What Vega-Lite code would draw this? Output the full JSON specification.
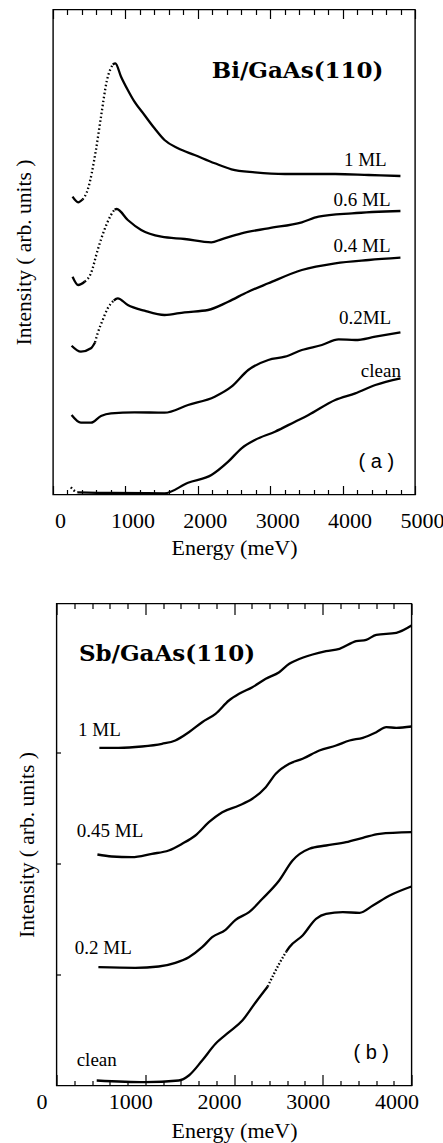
{
  "$schema": "https://vega.github.io/schema/vega-lite/v6.json",
  "background": "white",
  "padding": {"left": 12, "top": 7.5, "right": 0, "bottom": 30},
  "bounds": "flush",
  "spacing": 109,
  "center": true,
  "config": {
    "view": {"stroke": "black", "strokeWidth": 1.4},
    "axis": {"labelColor": "black", "titleColor": "black", "tickColor": "black", "tickWidth": 1.2, "grid": false, "domain": false, "labelFont": "Liberation Serif", "titleFont": "Liberation Serif", "titleFontWeight": "normal"}
  },
  "datasets": {
    "a_lines": [
      {"trace": "1 ML a", "E": 270, "I": 297.8}, {"trace": "1 ML a", "E": 348, "I": 292.2}, {"trace": "1 ML a", "E": 409, "I": 295},
      {"trace": "1 ML b", "E": 825, "I": 430}, {"trace": "1 ML b", "E": 861, "I": 431.2}, {"trace": "1 ML b", "E": 940, "I": 417.8}, {"trace": "1 ML b", "E": 1033, "I": 404.5}, {"trace": "1 ML b", "E": 1125, "I": 392.8}, {"trace": "1 ML b", "E": 1263, "I": 379.5}, {"trace": "1 ML b", "E": 1402, "I": 366.2}, {"trace": "1 ML b", "E": 1540, "I": 354.5}, {"trace": "1 ML b", "E": 1726, "I": 346.2}, {"trace": "1 ML b", "E": 1956, "I": 339.5}, {"trace": "1 ML b", "E": 2234, "I": 331.2}, {"trace": "1 ML b", "E": 2465, "I": 325.2}, {"trace": "1 ML b", "E": 2788, "I": 322.2}, {"trace": "1 ML b", "E": 3204, "I": 320.5}, {"trace": "1 ML b", "E": 3898, "I": 320.5}, {"trace": "1 ML b", "E": 4361, "I": 319.5}, {"trace": "1 ML b", "E": 4799, "I": 318.5},
      {"trace": "0.6 ML a", "E": 270, "I": 217.8}, {"trace": "0.6 ML a", "E": 348, "I": 209.5}, {"trace": "0.6 ML a", "E": 440, "I": 213},
      {"trace": "0.6 ML b", "E": 850, "I": 285}, {"trace": "0.6 ML b", "E": 880, "I": 285.5}, {"trace": "0.6 ML b", "E": 1033, "I": 274.5}, {"trace": "0.6 ML b", "E": 1218, "I": 264.5}, {"trace": "0.6 ML b", "E": 1496, "I": 257.8}, {"trace": "0.6 ML b", "E": 1818, "I": 255.5}, {"trace": "0.6 ML b", "E": 2187, "I": 252.2}, {"trace": "0.6 ML b", "E": 2327, "I": 255.2}, {"trace": "0.6 ML b", "E": 2604, "I": 261.2}, {"trace": "0.6 ML b", "E": 2974, "I": 266.2}, {"trace": "0.6 ML b", "E": 3437, "I": 272.2}, {"trace": "0.6 ML b", "E": 3668, "I": 277.8}, {"trace": "0.6 ML b", "E": 4130, "I": 281.2}, {"trace": "0.6 ML b", "E": 4799, "I": 283.5},
      {"trace": "0.4 ML a", "E": 257, "I": 148.8}, {"trace": "0.4 ML a", "E": 385, "I": 142.8}, {"trace": "0.4 ML a", "E": 524, "I": 146.2}, {"trace": "0.4 ML a", "E": 580, "I": 152},
      {"trace": "0.4 ML b", "E": 840, "I": 194}, {"trace": "0.4 ML b", "E": 894, "I": 196.2}, {"trace": "0.4 ML b", "E": 1033, "I": 189.5}, {"trace": "0.4 ML b", "E": 1263, "I": 183.8}, {"trace": "0.4 ML b", "E": 1540, "I": 179.5}, {"trace": "0.4 ML b", "E": 1818, "I": 182.2}, {"trace": "0.4 ML b", "E": 2142, "I": 184.5}, {"trace": "0.4 ML b", "E": 2420, "I": 192.8}, {"trace": "0.4 ML b", "E": 2697, "I": 202.8}, {"trace": "0.4 ML b", "E": 2974, "I": 211.2}, {"trace": "0.4 ML b", "E": 3437, "I": 224.5}, {"trace": "0.4 ML b", "E": 3898, "I": 231.2}, {"trace": "0.4 ML b", "E": 4361, "I": 234.5}, {"trace": "0.4 ML b", "E": 4799, "I": 236.8},
      {"trace": "0.2ML", "E": 257, "I": 79.5}, {"trace": "0.2ML", "E": 385, "I": 71.8}, {"trace": "0.2ML", "E": 524, "I": 71.8}, {"trace": "0.2ML", "E": 663, "I": 78.5}, {"trace": "0.2ML", "E": 801, "I": 81.2}, {"trace": "0.2ML", "E": 1125, "I": 82.2}, {"trace": "0.2ML", "E": 1540, "I": 81.8}, {"trace": "0.2ML", "E": 1865, "I": 89.5}, {"trace": "0.2ML", "E": 2234, "I": 97.8}, {"trace": "0.2ML", "E": 2465, "I": 107.8}, {"trace": "0.2ML", "E": 2697, "I": 124.5}, {"trace": "0.2ML", "E": 2974, "I": 134.5}, {"trace": "0.2ML", "E": 3204, "I": 137.8}, {"trace": "0.2ML", "E": 3437, "I": 144.5}, {"trace": "0.2ML", "E": 3714, "I": 149.5}, {"trace": "0.2ML", "E": 3945, "I": 155.2}, {"trace": "0.2ML", "E": 4175, "I": 154.5}, {"trace": "0.2ML", "E": 4452, "I": 157.8}, {"trace": "0.2ML", "E": 4799, "I": 162.2},
      {"trace": "clean", "E": 340, "I": 2.2}, {"trace": "clean", "E": 800, "I": 1.5}, {"trace": "clean", "E": 1540, "I": 1.2}, {"trace": "clean", "E": 1865, "I": 11.8}, {"trace": "clean", "E": 2188, "I": 19.5}, {"trace": "clean", "E": 2420, "I": 32.8}, {"trace": "clean", "E": 2604, "I": 46.2}, {"trace": "clean", "E": 2788, "I": 54.5}, {"trace": "clean", "E": 3066, "I": 62.8}, {"trace": "clean", "E": 3343, "I": 72.8}, {"trace": "clean", "E": 3529, "I": 79.5}, {"trace": "clean", "E": 3898, "I": 94.5}, {"trace": "clean", "E": 4175, "I": 101.2}, {"trace": "clean", "E": 4452, "I": 109.5}, {"trace": "clean", "E": 4799, "I": 116.2}
    ],
    "a_dots": [
      {"trace": "1 ML", "E": 409, "I": 295}, {"trace": "1 ML", "E": 478, "I": 304.5}, {"trace": "1 ML", "E": 593, "I": 344.5}, {"trace": "1 ML", "E": 663, "I": 377.8}, {"trace": "1 ML", "E": 746, "I": 414.5}, {"trace": "1 ML", "E": 825, "I": 430},
      {"trace": "0.6 ML", "E": 440, "I": 213}, {"trace": "0.6 ML", "E": 524, "I": 221.2}, {"trace": "0.6 ML", "E": 617, "I": 244.5}, {"trace": "0.6 ML", "E": 709, "I": 264.5}, {"trace": "0.6 ML", "E": 801, "I": 279.5}, {"trace": "0.6 ML", "E": 850, "I": 285},
      {"trace": "0.4 ML", "E": 580, "I": 152}, {"trace": "0.4 ML", "E": 617, "I": 161.2}, {"trace": "0.4 ML", "E": 686, "I": 174.5}, {"trace": "0.4 ML", "E": 756, "I": 186.2}, {"trace": "0.4 ML", "E": 840, "I": 194},
      {"trace": "clean", "E": 247, "I": 7.2}, {"trace": "clean", "E": 290, "I": 4}, {"trace": "clean", "E": 340, "I": 2.2}
    ],
    "a_text": [
      {"kind": "title", "text": "Bi/GaAs(110)", "E": 3378, "I": 416.8},
      {"kind": "tag", "text": "( a )", "E": 4466, "I": 27},
      {"kind": "curve", "text": "1 ML", "E": 4314, "I": 328.8},
      {"kind": "curve", "text": "0.6 ML", "E": 4268, "I": 288.5},
      {"kind": "curve", "text": "0.4 ML", "E": 4268, "I": 242.8},
      {"kind": "curve", "text": "0.2ML", "E": 4310, "I": 170.2},
      {"kind": "curve", "text": "clean", "E": 4529, "I": 117.8}
    ],
    "b_lines": [
      {"trace": "1 ML", "E": 483, "I": 337.7}, {"trace": "1 ML", "E": 698, "I": 337.7}, {"trace": "1 ML", "E": 962, "I": 339}, {"trace": "1 ML", "E": 1189, "I": 341.7}, {"trace": "1 ML", "E": 1339, "I": 345}, {"trace": "1 ML", "E": 1491, "I": 353.3}, {"trace": "1 ML", "E": 1641, "I": 363.3}, {"trace": "1 ML", "E": 1792, "I": 371.7}, {"trace": "1 ML", "E": 1943, "I": 385}, {"trace": "1 ML", "E": 2057, "I": 391.7}, {"trace": "1 ML", "E": 2207, "I": 398.3}, {"trace": "1 ML", "E": 2358, "I": 406.7}, {"trace": "1 ML", "E": 2509, "I": 413.3}, {"trace": "1 ML", "E": 2623, "I": 421.7}, {"trace": "1 ML", "E": 2697, "I": 425}, {"trace": "1 ML", "E": 2886, "I": 431}, {"trace": "1 ML", "E": 3037, "I": 434.3}, {"trace": "1 ML", "E": 3188, "I": 436.7}, {"trace": "1 ML", "E": 3376, "I": 444.3}, {"trace": "1 ML", "E": 3490, "I": 445.7}, {"trace": "1 ML", "E": 3603, "I": 450.7}, {"trace": "1 ML", "E": 3829, "I": 452.7}, {"trace": "1 ML", "E": 4000, "I": 460},
      {"trace": "0.45 ML", "E": 461, "I": 231}, {"trace": "0.45 ML", "E": 623, "I": 229}, {"trace": "0.45 ML", "E": 849, "I": 228.3}, {"trace": "0.45 ML", "E": 1075, "I": 231.7}, {"trace": "0.45 ML", "E": 1264, "I": 235}, {"trace": "0.45 ML", "E": 1415, "I": 241.7}, {"trace": "0.45 ML", "E": 1565, "I": 250}, {"trace": "0.45 ML", "E": 1717, "I": 263.3}, {"trace": "0.45 ML", "E": 1868, "I": 273.3}, {"trace": "0.45 ML", "E": 2057, "I": 280}, {"trace": "0.45 ML", "E": 2207, "I": 286.7}, {"trace": "0.45 ML", "E": 2358, "I": 298.3}, {"trace": "0.45 ML", "E": 2471, "I": 311.7}, {"trace": "0.45 ML", "E": 2623, "I": 321.7}, {"trace": "0.45 ML", "E": 2773, "I": 326.7}, {"trace": "0.45 ML", "E": 2962, "I": 335}, {"trace": "0.45 ML", "E": 3150, "I": 340}, {"trace": "0.45 ML", "E": 3302, "I": 345}, {"trace": "0.45 ML", "E": 3452, "I": 347.7}, {"trace": "0.45 ML", "E": 3603, "I": 353.3}, {"trace": "0.45 ML", "E": 3716, "I": 358.3}, {"trace": "0.45 ML", "E": 3829, "I": 357.7}, {"trace": "0.45 ML", "E": 4000, "I": 359},
      {"trace": "0.2 ML", "E": 472, "I": 118.3}, {"trace": "0.2 ML", "E": 886, "I": 117.7}, {"trace": "0.2 ML", "E": 1151, "I": 119}, {"trace": "0.2 ML", "E": 1339, "I": 122.7}, {"trace": "0.2 ML", "E": 1491, "I": 128.3}, {"trace": "0.2 ML", "E": 1641, "I": 138.3}, {"trace": "0.2 ML", "E": 1754, "I": 148.3}, {"trace": "0.2 ML", "E": 1905, "I": 155.7}, {"trace": "0.2 ML", "E": 2018, "I": 165.7}, {"trace": "0.2 ML", "E": 2170, "I": 173.3}, {"trace": "0.2 ML", "E": 2320, "I": 186.7}, {"trace": "0.2 ML", "E": 2509, "I": 205}, {"trace": "0.2 ML", "E": 2660, "I": 225}, {"trace": "0.2 ML", "E": 2849, "I": 236.7}, {"trace": "0.2 ML", "E": 3037, "I": 240}, {"trace": "0.2 ML", "E": 3263, "I": 243.3}, {"trace": "0.2 ML", "E": 3452, "I": 247.7}, {"trace": "0.2 ML", "E": 3641, "I": 251.7}, {"trace": "0.2 ML", "E": 4000, "I": 253.3},
      {"trace": "clean a", "E": 453, "I": 5}, {"trace": "clean a", "E": 999, "I": 3.3}, {"trace": "clean a", "E": 1377, "I": 5}, {"trace": "clean a", "E": 1491, "I": 10}, {"trace": "clean a", "E": 1641, "I": 25}, {"trace": "clean a", "E": 1792, "I": 41.7}, {"trace": "clean a", "E": 1943, "I": 53.3}, {"trace": "clean a", "E": 2094, "I": 65}, {"trace": "clean a", "E": 2245, "I": 83.3}, {"trace": "clean a", "E": 2380, "I": 99},
      {"trace": "clean b", "E": 2590, "I": 134}, {"trace": "clean b", "E": 2623, "I": 138.3}, {"trace": "clean b", "E": 2773, "I": 150}, {"trace": "clean b", "E": 2924, "I": 166.7}, {"trace": "clean b", "E": 3037, "I": 171.7}, {"trace": "clean b", "E": 3226, "I": 173.3}, {"trace": "clean b", "E": 3415, "I": 172.7}, {"trace": "clean b", "E": 3565, "I": 180}, {"trace": "clean b", "E": 3754, "I": 190}, {"trace": "clean b", "E": 4000, "I": 199}
    ],
    "b_dots": [
      {"trace": "clean", "E": 2380, "I": 99}, {"trace": "clean", "E": 2509, "I": 121.7}, {"trace": "clean", "E": 2590, "I": 134}
    ],
    "b_text": [
      {"kind": "title", "text": "Sb/GaAs(110)", "E": 1245, "I": 424.3},
      {"kind": "tag", "text": "( b )", "E": 3546, "I": 27},
      {"kind": "curve", "text": "1 ML", "E": 483, "I": 349.3},
      {"kind": "curve", "text": "0.45 ML", "E": 603, "I": 249},
      {"kind": "curve", "text": "0.2 ML", "E": 528, "I": 131.7},
      {"kind": "curve", "text": "clean", "E": 453, "I": 19.3}
    ]
  },
  "vconcat": [
    {
      "width": 362,
      "height": 485,
      "resolve": {"axis": {"x": "independent", "y": "independent"}},
      "layer": [
        {
          "data": {"name": "a_lines"},
          "mark": {"type": "line", "color": "black", "strokeWidth": 2.3, "interpolate": "monotone"},
          "encoding": {
            "x": {"field": "E", "type": "quantitative", "scale": {"domain": [0, 5000], "nice": false, "zero": false},
              "axis": {"orient": "bottom", "values": [0,200,400,600,800,1000,1200,1400,1600,1800,2000,2200,2400,2600,2800,3000,3200,3400,3600,3800,4000,4200,4400,4600,4800,5000], "format": "d", "labelExpr": "datum.value % 1000 === 0 ? datum.label : ''", "tickSize": {"condition": {"test": "datum.value % 1000 === 0", "value": -9}, "value": -5}, "labelPadding": 25, "labelFontSize": 22, "labelOffset": 7, "labelFlush": false, "labelOverlap": false, "labelBound": false, "title": "Energy (meV)", "titleFontSize": 22, "titlePadding": 2}},
            "y": {"field": "I", "type": "quantitative", "scale": {"domain": [0, 485], "nice": false}, "title": "Intensity ( arb. units )",
              "axis": {"orient": "left", "labels": false, "values": [0], "tickSize": 0, "titleFontSize": 21.5, "titlePadding": 17}},
            "detail": {"field": "trace"}
          }
        },
        {
          "data": {"name": "a_dots"},
          "mark": {"type": "line", "color": "black", "strokeWidth": 2.3, "strokeDash": [1.5, 2.5], "interpolate": "monotone"},
          "encoding": {
            "x": {"field": "E", "type": "quantitative", "scale": {"domain": [0, 5000], "nice": false, "zero": false},
              "axis": {"orient": "top", "values": [0,200,400,600,800,1000,1200,1400,1600,1800,2000,2200,2400,2600,2800,3000,3200,3400,3600,3800,4000,4200,4400,4600,4800,5000], "labels": false, "title": null, "tickSize": {"condition": {"test": "datum.value % 1000 === 0", "value": -9}, "value": -5}}},
            "y": {"field": "I", "type": "quantitative", "axis": null},
            "detail": {"field": "trace"}
          }
        },
        {
          "data": {"name": "a_text"},
          "transform": [{"filter": "datum.kind === 'curve'"}],
          "mark": {"type": "text", "font": "Liberation Serif", "fontSize": 19, "align": "center", "baseline": "alphabetic", "color": "black"},
          "encoding": {
            "x": {"field": "E", "type": "quantitative", "axis": null},
            "y": {"field": "I", "type": "quantitative", "axis": null},
            "text": {"field": "text"}
          }
        },
        {
          "data": {"name": "a_text"},
          "transform": [{"filter": "datum.kind === 'title'"}],
          "mark": {"type": "text", "font": "DejaVu Serif", "fontWeight": "bold", "fontSize": 23, "align": "center", "baseline": "alphabetic", "color": "black"},
          "encoding": {
            "x": {"field": "E", "type": "quantitative", "axis": null},
            "y": {"field": "I", "type": "quantitative", "axis": null},
            "text": {"field": "text"}
          }
        },
        {
          "data": {"name": "a_text"},
          "transform": [{"filter": "datum.kind === 'tag'"}],
          "mark": {"type": "text", "font": "Liberation Sans", "fontSize": 20, "align": "center", "baseline": "alphabetic", "color": "black"},
          "encoding": {
            "x": {"field": "E", "type": "quantitative", "axis": null},
            "y": {"field": "I", "type": "quantitative", "axis": null},
            "text": {"field": "text"}
          }
        }
      ]
    },
    {
      "width": 355,
      "height": 482,
      "resolve": {"axis": {"x": "independent", "y": "independent"}},
      "layer": [
        {
          "data": {"name": "b_lines"},
          "mark": {"type": "line", "color": "black", "strokeWidth": 2.3, "interpolate": "monotone"},
          "encoding": {
            "x": {"field": "E", "type": "quantitative", "scale": {"domain": [0, 4000], "nice": false, "zero": false},
              "axis": {"orient": "bottom", "values": [0,200,400,600,800,1000,1200,1400,1600,1800,2000,2200,2400,2600,2800,3000,3200,3400,3600,3800,4000], "format": "d", "labelExpr": "datum.value % 1000 === 0 ? datum.label : ''", "tickSize": {"condition": {"test": "datum.value % 1000 === 0", "value": -11}, "value": -5}, "labelPadding": 17, "labelFontSize": 22, "labelOffset": -15, "labelFlush": false, "labelOverlap": false, "labelBound": false, "title": "Energy (meV)", "titleFontSize": 22, "titlePadding": 2}},
            "y": {"field": "I", "type": "quantitative", "scale": {"domain": [0, 482], "nice": false}, "title": "Intensity ( arb. units )",
              "axis": {"orient": "left", "labels": false, "values": [111, 222, 333], "tickSize": -4, "titleFontSize": 21.5, "titlePadding": 17}},
            "detail": {"field": "trace"}
          }
        },
        {
          "data": {"name": "b_dots"},
          "mark": {"type": "line", "color": "black", "strokeWidth": 2.3, "strokeDash": [1.5, 2], "interpolate": "monotone"},
          "encoding": {
            "x": {"field": "E", "type": "quantitative", "scale": {"domain": [0, 4000], "nice": false, "zero": false},
              "axis": {"orient": "top", "values": [0,200,400,600,800,1000,1200,1400,1600,1800,2000,2200,2400,2600,2800,3000,3200,3400,3600,3800,4000], "labels": false, "title": null, "tickSize": {"condition": {"test": "datum.value % 1000 === 0", "value": -11}, "value": -5}}},
            "y": {"field": "I", "type": "quantitative", "axis": null},
            "detail": {"field": "trace"}
          }
        },
        {
          "data": {"name": "b_text"},
          "transform": [{"filter": "datum.kind === 'curve'"}],
          "mark": {"type": "text", "font": "Liberation Serif", "fontSize": 19, "align": "center", "baseline": "alphabetic", "color": "black"},
          "encoding": {
            "x": {"field": "E", "type": "quantitative", "axis": null},
            "y": {"field": "I", "type": "quantitative", "axis": null},
            "text": {"field": "text"}
          }
        },
        {
          "data": {"name": "b_text"},
          "transform": [{"filter": "datum.kind === 'title'"}],
          "mark": {"type": "text", "font": "DejaVu Serif", "fontWeight": "bold", "fontSize": 23, "align": "center", "baseline": "alphabetic", "color": "black"},
          "encoding": {
            "x": {"field": "E", "type": "quantitative", "axis": null},
            "y": {"field": "I", "type": "quantitative", "axis": null},
            "text": {"field": "text"}
          }
        },
        {
          "data": {"name": "b_text"},
          "transform": [{"filter": "datum.kind === 'tag'"}],
          "mark": {"type": "text", "font": "Liberation Sans", "fontSize": 20, "align": "center", "baseline": "alphabetic", "color": "black"},
          "encoding": {
            "x": {"field": "E", "type": "quantitative", "axis": null},
            "y": {"field": "I", "type": "quantitative", "axis": null},
            "text": {"field": "text"}
          }
        }
      ]
    }
  ]
}
